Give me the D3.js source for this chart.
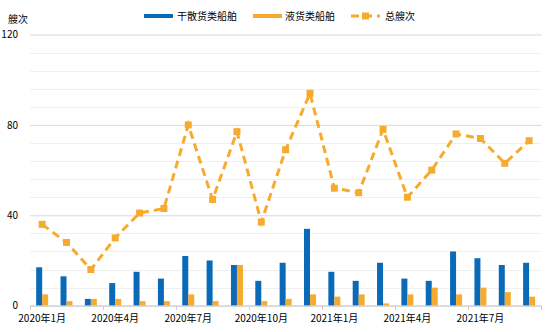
<!DOCTYPE html>
<html><head><meta charset="utf-8">
<script src="https://cdn.jsdelivr.net/npm/d3@7"></script>
<style>
html,body{margin:0;padding:0;background:#fff;}
text{font-family:"Noto Sans CJK SC","DejaVu Sans",sans-serif;fill:#000;}
</style></head>
<body><svg id="c" width="554" height="332"></svg>
<script>
const months = ["2020年1月","2020年2月","2020年3月","2020年4月","2020年5月","2020年6月","2020年7月","2020年8月","2020年9月","2020年10月","2020年11月","2020年12月","2021年1月","2021年2月","2021年3月","2021年4月","2021年5月","2021年6月","2021年7月","2021年8月","2021年9月"];
const dryBulk = [17,13,3,10,15,12,22,20,18,11,19,34,15,11,19,12,11,24,21,18,19];
const liquid  = [5,2,3,3,2,2,5,2,18,2,3,5,4,5,1,5,8,5,8,6,4];
const total   = [36,28,16,30,41,43,80,47,77,37,69,94,52,50,78,48,60,76,74,63,73];
const yTicks  = [0,40,80,120];
const seriesNames = ["干散货类船舶","液货类船舶","总艘次"];
const yTitle = "艘次";

const BLUE="#0a6ab8", ORANGE="#f7ab2e";
const svg=d3.select("#c");
const x=d3.scaleBand().domain(months).range([30,541.3]).padding(0);
const y=d3.scaleLinear().domain([0,120]).range([305.7,34.5]);
const L=30,R=541.5;

// minor gridlines
const minor=d3.range(8,121,8).filter(v=>v%40!==0);
svg.append("g").selectAll("line").data(minor).join("line")
  .attr("x1",L).attr("x2",R).attr("y1",d=>Math.round(y(d))+0.5).attr("y2",d=>Math.round(y(d))+0.5)
  .attr("stroke","#f0f0f0").attr("stroke-width",1);
// major gridlines + y labels
const yAxis=d3.axisLeft(y).tickValues(yTicks).tickSize(-(R-L)).tickPadding(12).tickFormat(d3.format("d"));
const ga=svg.append("g").attr("transform",`translate(${L},0)`).call(yAxis);
ga.select(".domain").remove();
ga.selectAll(".tick line").attr("stroke",d=>d===0?"#cfcfcf":"#d9d9d9");
ga.selectAll(".tick text").attr("font-size",10).attr("x",-12);

// bars
const bw=6;
svg.append("g").selectAll("rect").data(months).join("rect")
  .attr("x",d=>x(d)+x.bandwidth()/2-bw).attr("width",bw)
  .attr("y",(d,i)=>y(dryBulk[i])).attr("height",(d,i)=>y(0)-y(dryBulk[i]))
  .attr("fill",BLUE);
svg.append("g").selectAll("rect").data(months).join("rect")
  .attr("x",d=>x(d)+x.bandwidth()/2).attr("width",bw)
  .attr("y",(d,i)=>y(liquid[i])).attr("height",(d,i)=>y(0)-y(liquid[i]))
  .attr("fill",ORANGE);

// x axis
const tickIdx=[0,3,6,9,12,15,18];
svg.append("line").attr("x1",L).attr("x2",R).attr("y1",306).attr("y2",306).attr("stroke","#cfcfcf");
const tickPos=[0,3,6,9,12,15,18,21].map(i=>i<months.length?x(months[i]):x.range()[1]);
svg.append("g").selectAll("line").data(tickPos).join("line")
  .attr("x1",d=>Math.round(d)+0.5).attr("x2",d=>Math.round(d)+0.5).attr("y1",306).attr("y2",310)
  .attr("stroke","#cfcfcf");
svg.append("g").selectAll("text").data(tickIdx).join("text")
  .attr("x",i=>x(months[i])+x.bandwidth()/2).attr("y",318).attr("dy","0.35em")
  .attr("text-anchor","middle").attr("font-size",10).text(i=>months[i]);

// total line
const line=d3.line().x((d,i)=>x(months[i])+x.bandwidth()/2).y(d=>y(d));
svg.append("path").datum(total).attr("d",line).attr("fill","none")
  .attr("stroke",ORANGE).attr("stroke-width",3).attr("stroke-dasharray","8,5");
svg.append("g").selectAll("rect").data(total).join("rect")
  .attr("x",(d,i)=>x(months[i])+x.bandwidth()/2-3.5).attr("y",d=>y(d)-3.5)
  .attr("width",7).attr("height",7).attr("fill",ORANGE);

// y title
svg.append("text").attr("x",8).attr("y",19.5).attr("dy","0.35em").attr("font-size",10).text(yTitle);

// legend
const lg=svg.append("g");
const ly=16;
lg.append("rect").attr("x",144).attr("y",ly-2).attr("width",29).attr("height",4).attr("fill",BLUE);
lg.append("text").attr("x",177).attr("y",ly).attr("dy","0.35em").attr("font-size",10).text(seriesNames[0]);
lg.append("rect").attr("x",253).attr("y",ly-2).attr("width",29).attr("height",4).attr("fill",ORANGE);
lg.append("text").attr("x",285).attr("y",ly).attr("dy","0.35em").attr("font-size",10).text(seriesNames[1]);
lg.append("line").attr("x1",351).attr("x2",380).attr("y1",ly).attr("y2",ly)
  .attr("stroke",ORANGE).attr("stroke-width",3).attr("stroke-dasharray","8,5");
lg.append("rect").attr("x",362).attr("y",ly-3.5).attr("width",7).attr("height",7).attr("fill",ORANGE);
lg.append("text").attr("x",385).attr("y",ly).attr("dy","0.35em").attr("font-size",10).text(seriesNames[2]);
</script></body></html>
